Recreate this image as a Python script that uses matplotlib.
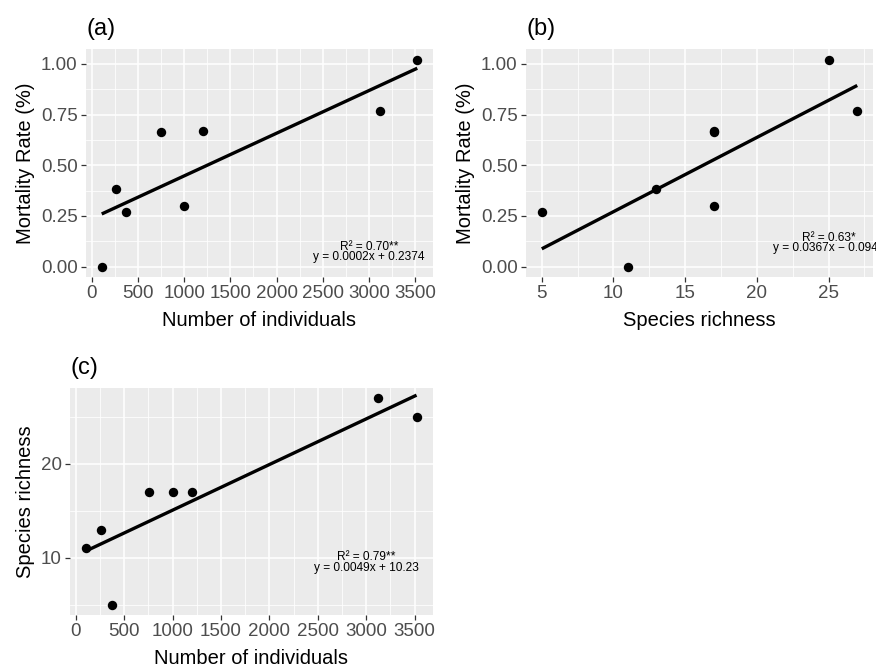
import matplotlib
matplotlib.use('Agg')
from matplotlib import pyplot as plt
import numpy as np

plt.rcParams['font.family'] = ['Liberation Sans', 'DejaVu Sans']

# site data
individuals = [110, 260, 375, 755, 1000, 1200, 3120, 3520]
richness = [11, 13, 5, 17, 17, 17, 27, 25]
mortality = [0.0, 0.385, 0.27, 0.663, 0.30, 0.667, 0.77, 1.02]

labels_a = ['R\u00b2 = 0.70**', 'y = 0.0002x + 0.2374']
labels_b = ['R\u00b2 = 0.63*', 'y = 0.0367x \u2212 0.0946']
labels_c = ['R\u00b2 = 0.79**', 'y = 0.0049x + 10.23']

BG = '#EBEBEB'
TICKCOL = '#4D4D4D'


def gg_axes(ax):
    ax.set_facecolor(BG)
    for s in ax.spines.values():
        s.set_visible(False)
    ax.grid(which='major', color='white', linewidth=1.1)
    ax.grid(which='minor', color='white', linewidth=0.55)
    ax.set_axisbelow(True)
    ax.tick_params(which='major', length=3.6, width=0.9, color='#333333',
                   labelcolor=TICKCOL, labelsize=13.5, pad=2.5)
    ax.tick_params(which='minor', length=0)


def panel(ax, x, y, letter, xlab, ylab, lab, lab_x, lab_y):
    gg_axes(ax)
    ax.scatter(x, y, s=46, color='black', zorder=3, linewidths=0)
    k, b = np.polyfit(x, y, 1)
    xs = np.array([min(x), max(x)])
    ax.plot(xs, k * xs + b, color='black', linewidth=2.4, zorder=4,
            solid_capstyle='butt')
    ax.text(lab_x, lab_y[0], lab[0], ha='center', va='center', fontsize=8.6,
            zorder=5, clip_on=False)
    ax.text(lab_x, lab_y[1], lab[1], ha='center', va='center', fontsize=8.6,
            zorder=5, clip_on=False)
    ax.set_xlabel(xlab, fontsize=14.5, labelpad=6)
    ax.set_ylabel(ylab, fontsize=14.5, labelpad=4)
    ax.set_title(letter, loc='left', fontsize=17, pad=10)


fig = plt.figure(figsize=(8.76, 6.68), dpi=100)

ax_a = fig.add_axes([86 / 876, 1 - 277 / 668, 347 / 876, 228 / 668])
ax_b = fig.add_axes([526 / 876, 1 - 277 / 668, 347 / 876, 228 / 668])
ax_c = fig.add_axes([70 / 876, 1 - 615 / 668, 363 / 876, 227 / 668])

panel(ax_a, individuals, mortality, '(a)', 'Number of individuals',
      'Mortality Rate (%)', labels_a, 3000, (0.097, 0.05))
ax_a.set_xlim(-60, 3690)
ax_a.set_ylim(-0.051, 1.074)
ax_a.set_xticks(np.arange(0, 3501, 500))
ax_a.set_xticks(np.arange(250, 3700, 500), minor=True)
ax_a.set_yticks([0, 0.25, 0.5, 0.75, 1.0])
ax_a.set_yticklabels(['0.00', '0.25', '0.50', '0.75', '1.00'])
ax_a.set_yticks([0.125, 0.375, 0.625, 0.875], minor=True)

panel(ax_b, richness, mortality, '(b)', 'Species richness',
      'Mortality Rate (%)', labels_b, 25, (0.139, 0.093))
ax_b.set_xlim(3.9, 28.1)
ax_b.set_ylim(-0.051, 1.074)
ax_b.set_xticks([5, 10, 15, 20, 25])
ax_b.set_xticks([7.5, 12.5, 17.5, 22.5, 27.5], minor=True)
ax_b.set_yticks([0, 0.25, 0.5, 0.75, 1.0])
ax_b.set_yticklabels(['0.00', '0.25', '0.50', '0.75', '1.00'])
ax_b.set_yticks([0.125, 0.375, 0.625, 0.875], minor=True)

panel(ax_c, individuals, richness, '(c)', 'Number of individuals',
      'Species richness', labels_c, 3000, (10.1, 8.9))
ax_c.set_xlim(-60, 3690)
ax_c.set_ylim(3.9, 28.1)
ax_c.set_xticks(np.arange(0, 3501, 500))
ax_c.set_xticks(np.arange(250, 3700, 500), minor=True)
ax_c.set_yticks([10, 20])
ax_c.set_yticks([5, 15, 25], minor=True)

fig.savefig('out.png', dpi=100, facecolor='white')
